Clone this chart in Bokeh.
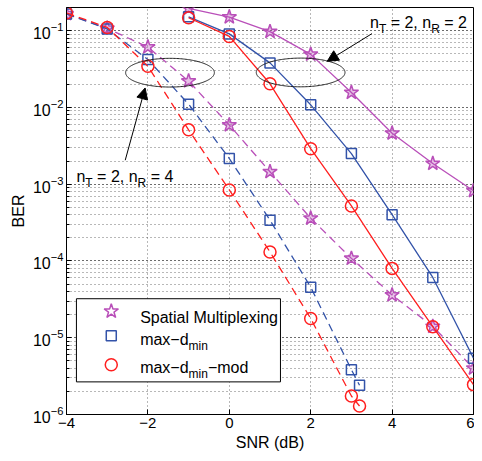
import numpy as np
from bokeh.plotting import figure
from bokeh.models import FixedTicker, Arrow, NormalHead, BoxAnnotation, ColumnDataSource
from bokeh.embed import file_html
from bokeh.resources import INLINE
from bokeh.core.properties import value

# ---------------- data ----------------
snr_nr2 = [-1, 0, 1, 2, 3, 4, 5, 6]
sm_nr2 = [0.195, 0.15, 0.097, 0.049, 0.0156, 0.0046, 0.00186, 0.00082]
mdm_nr2 = [0.151, 0.0906, 0.038, 0.0108, 0.0025, 0.00040, 6.1e-5, 5.4e-6]
mod_nr2 = [0.147, 0.084, 0.0203, 0.0029, 5.2e-4, 8.0e-5, 1.39e-5, 2.45e-6]

snr_sm_nr4 = [-4, -3, -2, -1, 0, 1, 2, 3, 4, 5, 6]
sm_nr4 = [0.165, 0.107, 0.061, 0.022, 0.0059, 0.00145, 3.6e-4, 1.08e-4, 3.6e-5, 1.4e-5, 4.0e-6]
snr_nr4 = [-4, -3, -2, -1, 0, 1, 2, 3, 3.2]
mdm_nr4 = [0.165, 0.105, 0.042, 0.011, 0.00216, 3.4e-4, 4.55e-5, 3.84e-6, 2.4e-6]
mod_nr4 = [0.17, 0.11, 0.0344, 0.0051, 8.4e-4, 1.31e-4, 1.78e-5, 1.74e-6, 1.29e-6]

x_ticks = [-4, -2, 0, 2, 4, 6]
legend_labels = [
    [("Spatial Multiplexing", False)],
    [("max\u2212d", False), ("min", True)],
    [("max\u2212d", False), ("min", True), ("\u2212mod", False)],
]
ann_left = [("n", False), ("T", True), (" = 2, n", False), ("R", True), (" = 4", False)]
ann_right = [("n", False), ("T", True), (" = 2, n", False), ("R", True), (" = 2", False)]

FONT = "Liberation Sans"
C_SM = "#B94FB9"
C_MD = "#3353A9"
C_MOD = "#FF1F1F"

p = figure(width=474, height=453, x_range=(-4, 6), y_range=(1e-6, 0.2),
           y_axis_type="log", output_backend="svg", toolbar_location=None,
           min_border_left=66, min_border_right=1, min_border_top=7, min_border_bottom=36)

p.outline_line_color = "black"
p.outline_line_alpha = 1
p.background_fill_color = "white"

p.xaxis.ticker = FixedTicker(ticks=x_ticks)
p.xgrid.ticker = FixedTicker(ticks=x_ticks)
for ax in (p.xaxis[0], p.yaxis[0]):
    ax.major_tick_in = 5
    ax.major_tick_out = 0
    ax.minor_tick_in = 3
    ax.minor_tick_out = 0
    ax.axis_line_color = "black"
    ax.major_tick_line_color = "black"
    ax.major_label_text_font = FONT
    ax.major_label_text_color = "black"
    ax.axis_label_text_font = FONT
    ax.axis_label_text_font_size = "16px"
    ax.axis_label_text_font_style = "normal"
    ax.axis_label_text_color = "black"
    ax.major_label_standoff = 3
    ax.axis_label_standoff = 3
p.xaxis.major_label_text_font_size = "15px"
p.yaxis.major_label_text_font_size = "16px"
p.xaxis.minor_tick_line_color = None
p.xaxis.axis_label = "SNR (dB)"
p.yaxis.axis_label = "BER"

p.xgrid.grid_line_color = "#333333"
p.xgrid.grid_line_dash = "1 3"
p.xgrid.grid_line_alpha = 0.7
p.ygrid.grid_line_color = "#333333"
p.ygrid.grid_line_dash = "1 3"
p.ygrid.grid_line_alpha = 0.7
p.ygrid.minor_grid_line_color = "#333333"
p.ygrid.minor_grid_line_dash = "1 3"
p.ygrid.minor_grid_line_alpha = 0.7

LW = 1.3
DASH = "8 5"
# nR = 4 (dashed)
p.line(snr_sm_nr4, sm_nr4, color=C_SM, line_width=LW, line_dash=DASH)
p.scatter(snr_sm_nr4, sm_nr4, marker="star", size=15, line_color=C_SM, fill_color=C_SM, fill_alpha=0.35, line_width=1.5)
p.line(snr_nr4, mdm_nr4, color=C_MD, line_width=LW, line_dash=DASH)
p.scatter(snr_nr4, mdm_nr4, marker="square", size=10, line_color=C_MD, fill_color=None, line_width=1.5)
p.line(snr_nr4, mod_nr4, color=C_MOD, line_width=LW, line_dash=DASH)
p.scatter(snr_nr4, mod_nr4, marker="circle", size=12, line_color=C_MOD, fill_color=None, line_width=1.5)
# nR = 2 (solid)
p.line(snr_nr2, sm_nr2, color=C_SM, line_width=LW)
p.scatter(snr_nr2, sm_nr2, marker="star", size=15, line_color=C_SM, fill_color=C_SM, fill_alpha=0.35, line_width=1.5)
p.line(snr_nr2, mdm_nr2, color=C_MD, line_width=LW)
p.scatter(snr_nr2, mdm_nr2, marker="square", size=10, line_color=C_MD, fill_color=None, line_width=1.5)
p.line(snr_nr2, mod_nr2, color=C_MOD, line_width=LW)
p.scatter(snr_nr2, mod_nr2, marker="circle", size=12, line_color=C_MOD, fill_color=None, line_width=1.5)

# ---------------- rich text helper (subscripts) ----------------
W = {'n': 556, 'T': 611, 'R': 722, ' ': 278, '=': 584, '2': 556, '4': 556, ',': 278,
     'm': 833, 'a': 556, 'x': 500, '\u2212': 584, 'd': 556, 'i': 222, 'o': 556,
     'S': 667, 'p': 556, 't': 278, 'l': 222, 'M': 833, 'u': 556, 'e': 556, 'g': 556}


def rich(x, y, pieces, size=16, sub_size=12, base=0, drop=6, level="glyph"):
    txt, xo, yo, fs = [], [], [], []
    off = 0.0
    for s, sub in pieces:
        f = sub_size if sub else size
        lead = len(s) - len(s.lstrip(" "))
        off += lead * W[' '] * f / 1000.0
        s = s.lstrip(" ")
        txt.append(s)
        xo.append(off)
        yo.append(base + (drop if sub else 0))
        fs.append(f"{f}px")
        off += sum(W.get(c, 556) for c in s) * f / 1000.0
    n = len(txt)
    src = ColumnDataSource(dict(x=[x] * n, y=[y] * n, text=txt, xo=xo, yo=yo, fs=fs))
    r = p.text("x", "y", text="text", x_offset="xo", y_offset="yo", text_font_size="fs",
               text_font=value(FONT), text_baseline="alphabetic", text_align="left",
               text_color="black", source=src)
    r.level = level
    return r


# ---------------- annotations: ellipses, arrows, labels ----------------
t = np.linspace(0, 2 * np.pi, 200)
for cx, cy in ((-1.457, -1.548), (1.753, -1.545)):
    p.line(cx + 1.09 * np.cos(t), 10 ** (cy + 0.187 * np.sin(t)), color="#222222", line_width=1)

p.add_layout(Arrow(end=NormalHead(size=11, fill_color="black", line_color="black"),
                   x_start=-2.557, y_start=2.05e-3, x_end=-2.068, y_end=0.0179,
                   line_color="black", line_width=1))
p.add_layout(Arrow(end=NormalHead(size=11, fill_color="black", line_color="black"),
                   x_start=3.506, y_start=0.0914, x_end=2.406, y_end=0.0399,
                   line_color="black", line_width=1))

rich(-3.756, 1.24e-3, ann_left)
rich(3.457, 0.1268, ann_right)

# ---------------- legend (manual, for subscripts) ----------------
p.add_layout(BoxAnnotation(left=-3.756, right=1.257, bottom=2.66e-6, top=3.22e-5,
                           fill_color="white", fill_alpha=1, line_color="black",
                           line_width=1, line_alpha=1))
leg_y = [10 ** -4.656, 10 ** -4.973, 10 ** -5.352]
leg_marker = ["star", "square", "circle"]
leg_color = [C_SM, C_MD, C_MOD]
leg_size = [15, 10, 12]
leg_base = [6, 4, 3]
for yy, mk, col, sz, lab, b in zip(leg_y, leg_marker, leg_color, leg_size, legend_labels, leg_base):
    r = p.scatter([-2.9], [yy], marker=mk, size=sz, line_color=col, fill_color=None, line_width=1.5)
    r.level = "overlay"
    rich(-2.191, yy, lab, base=b, level="overlay")

open("out.html", "w").write(file_html(p, INLINE))
